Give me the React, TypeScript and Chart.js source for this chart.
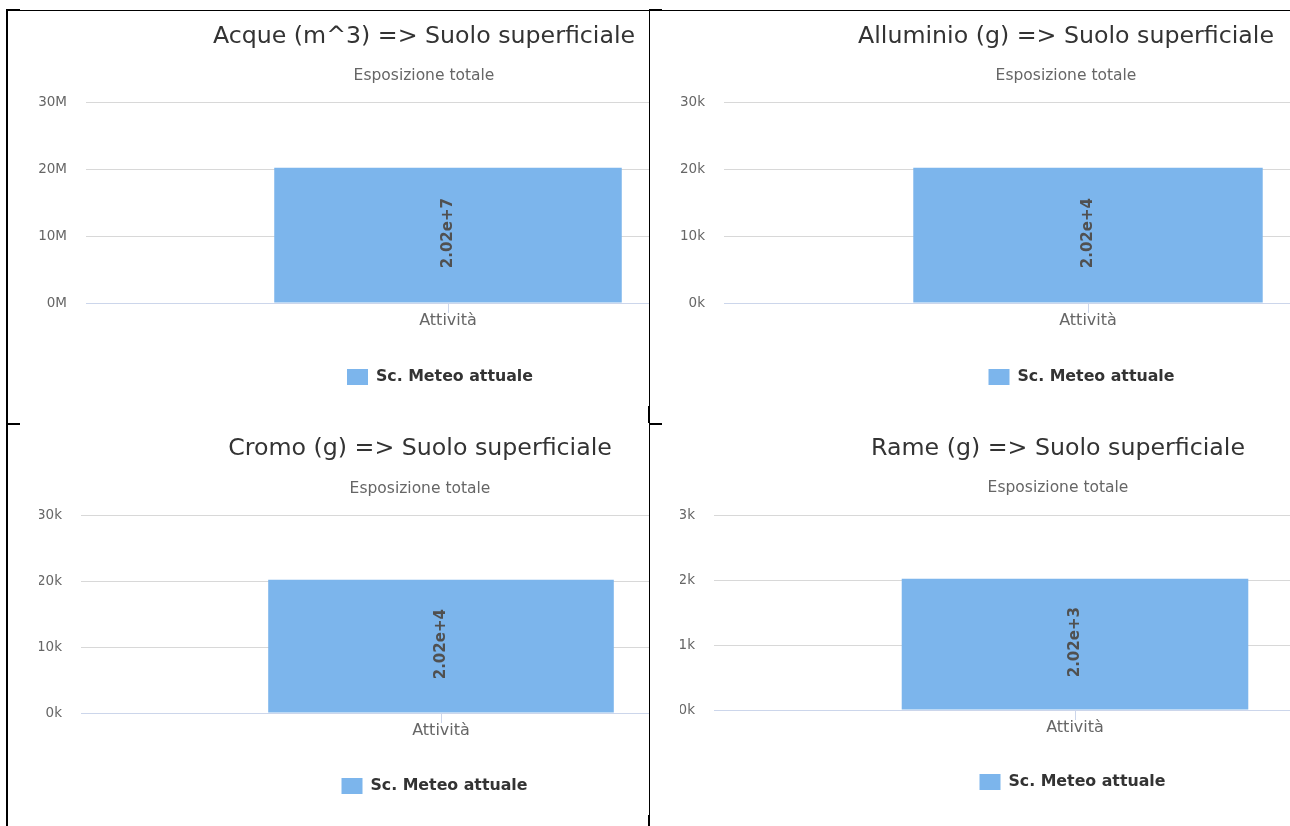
import { useEffect, useRef } from 'react';
import { Chart, registerables } from 'chart.js';

Chart.register(...registerables);

// ---------- data ----------
const categories = ['Attività'];
const seriesName = 'Sc. Meteo attuale';
const subtitleText = 'Esposizione totale';

const acqueTitle = 'Acque (m^3) => Suolo superficiale';
const alluminioTitle = 'Alluminio (g) => Suolo superficiale';
const cromoTitle = 'Cromo (g) => Suolo superficiale';
const rameTitle = 'Rame (g) => Suolo superficiale';

const acqueValues = [2.02e7];
const alluminioValues = [2.02e4];
const cromoValues = [2.02e4];
const rameValues = [2.02e3];

const acqueTickValues = [0, 1e7, 2e7, 3e7];
const acqueTickLabels = ['0M', '10M', '20M', '30M'];
const alluminioTickValues = [0, 1e4, 2e4, 3e4];
const alluminioTickLabels = ['0k', '10k', '20k', '30k'];
const cromoTickValues = [0, 1e4, 2e4, 3e4];
const cromoTickLabels = ['0k', '10k', '20k', '30k'];
const rameTickValues = [0, 1e3, 2e3, 3e3];
const rameTickLabels = ['0k', '1k', '2k', '3k'];

// ---------- layout (positions/sizes only) ----------
const FONT = '"DejaVu Sans", sans-serif';

const panelLayouts = [
  { cell: { x: 8, y: 11, w: 641, h: 412 }, canvas: { x: 38, y: 11, w: 772, h: 412 }, yWidth: 48, titlePadTop: 11.9, subPadTop: 15.6, subPadBottom: 16.7, legendPad: 40.8, padBottom: 28, legendShift: 16 },
  { cell: { x: 650, y: 11, w: 640, h: 412 }, canvas: { x: 680, y: 11, w: 772, h: 412 }, yWidth: 44, titlePadTop: 11.9, subPadTop: 15.6, subPadBottom: 16.7, legendPad: 40.8, padBottom: 28, legendShift: 15.5 },
  { cell: { x: 8, y: 425, w: 641, h: 401 }, canvas: { x: 39, y: 425, w: 762, h: 406 }, yWidth: 42, titlePadTop: 9.9, subPadTop: 16.6, subPadBottom: 16.7, legendPad: 39.8, padBottom: 27, legendShift: 14.5 },
  { cell: { x: 650, y: 425, w: 640, h: 401 }, canvas: { x: 680, y: 425, w: 756, h: 401 }, yWidth: 34, titlePadTop: 9.9, subPadTop: 15.6, subPadBottom: 17.7, legendPad: 38.8, padBottom: 26, legendShift: 14.5 },
];

const panels = [
  { title: acqueTitle, values: acqueValues, tickValues: acqueTickValues, tickLabels: acqueTickLabels },
  { title: alluminioTitle, values: alluminioValues, tickValues: alluminioTickValues, tickLabels: alluminioTickLabels },
  { title: cromoTitle, values: cromoValues, tickValues: cromoTickValues, tickLabels: cromoTickLabels },
  { title: rameTitle, values: rameValues, tickValues: rameTickValues, tickLabels: rameTickLabels },
];

const barLabelPlugin = {
  id: 'barLabel',
  afterDatasetsDraw(chart: any) {
    const ctx = chart.ctx;
    chart.data.datasets.forEach((ds: any, di: number) => {
      const meta = chart.getDatasetMeta(di);
      meta.data.forEach((bar: any, i: number) => {
        const v = ds.data[i] as number;
        const text = v.toExponential(2);
        ctx.save();
        ctx.translate(bar.x, (bar.y + bar.base) / 2 - 2);
        ctx.rotate(-Math.PI / 2);
        ctx.font = `bold 15px ${FONT}`;
        ctx.fillStyle = '#505050';
        ctx.textAlign = 'center';
        ctx.textBaseline = 'middle';
        ctx.fillText(text, 0, 0);
        ctx.restore();
      });
    });
  },
};

function makeLegendShift(dx: number) {
  return {
    id: 'legendShift',
    afterLayout(chart: any) {
      if (chart.legend) {
        chart.legend.left += dx;
        chart.legend.right += dx;
      }
    },
  };
}

function BarPanel({ index }: { index: number }) {
  const ref = useRef<HTMLCanvasElement>(null);
  const L = panelLayouts[index];
  const P = panels[index];

  useEffect(() => {
    const chart = new Chart(ref.current as HTMLCanvasElement, {
      type: 'bar',
      data: {
        labels: categories,
        datasets: [
          {
            label: seriesName,
            data: P.values,
            backgroundColor: '#7cb5ec',
            borderWidth: 0,
            barPercentage: 0.48,
            categoryPercentage: 1,
          },
        ],
      },
      options: {
        animation: false,
        responsive: false,
        devicePixelRatio: 1,
        layout: { padding: { left: 0, right: 0, top: 0, bottom: L.padBottom } },
        plugins: {
          title: {
            display: true,
            text: P.title,
            color: '#333333',
            font: { family: FONT, size: 23.7, weight: 'normal' },
            padding: { top: L.titlePadTop, bottom: 0 },
          },
          subtitle: {
            display: true,
            text: subtitleText,
            color: '#666666',
            font: { family: FONT, size: 15.5, weight: 'normal' },
            padding: { top: L.subPadTop, bottom: L.subPadBottom },
          },
          legend: {
            position: 'bottom',
            labels: {
              boxWidth: 21,
              boxHeight: 16,
              color: '#333333',
              font: { family: FONT, size: 15.8, weight: 'bold' },
              padding: L.legendPad,
            },
          },
          tooltip: { enabled: false },
        },
        scales: {
          x: {
            grid: { offset: false, drawOnChartArea: false, drawTicks: true, tickLength: 10, color: '#ccd6eb' },
            border: { display: true, color: '#ccd6eb' },
            ticks: { color: '#666666', font: { family: FONT, size: 16 }, padding: -2 },
          },
          y: {
            min: 0,
            max: P.tickValues[P.tickValues.length - 1],
            afterBuildTicks: (s: any) => {
              s.ticks = P.tickValues.map((v) => ({ value: v }));
            },
            afterFit: (s: any) => {
              s.width = L.yWidth;
            },
            grid: {
              drawTicks: false,
              color: (c: any) => (c.tick && c.tick.value === 0 ? '#ccd6eb' : '#d8d8d8'),
            },
            border: { display: false },
            ticks: {
              color: '#666666',
              font: { family: FONT, size: 13.5 },
              padding: 19,
              callback: (_v: any, i: number) => P.tickLabels[i],
            },
          },
        },
      } as any,
      plugins: [barLabelPlugin, makeLegendShift(L.legendShift)],
    });
    return () => chart.destroy();
  }, []);

  return (
    <div style={{ position: 'absolute', left: L.cell.x, top: L.cell.y, width: L.cell.w, height: L.cell.h, overflow: 'hidden' }}>
      <canvas
        ref={ref}
        width={L.canvas.w}
        height={L.canvas.h}
        style={{ position: 'absolute', left: L.canvas.x - L.cell.x, top: L.canvas.y - L.cell.y, width: L.canvas.w, height: L.canvas.h }}
      />
    </div>
  );
}

function Line({ x, y, w, h }: { x: number; y: number; w: number; h: number }) {
  return <div style={{ position: 'absolute', left: x, top: y, width: w, height: h, background: '#000' }} />;
}

export default function App() {
  return (
    <div style={{ position: 'absolute', left: 0, top: 0, width: 1290, height: 826, overflow: 'hidden', background: '#fff' }}>
      {panels.map((_, i) => (
        <BarPanel key={i} index={i} />
      ))}
      {/* table borders */}
      <Line x={7} y={10} w={1283} h={1} />
      <Line x={6} y={9} w={14} h={2} />
      <Line x={6} y={9} w={2} h={817} />
      <Line x={6} y={423} w={14} h={2} />
      <Line x={649} y={10} w={1} h={816} />
      <Line x={649} y={9} w={13} h={2} />
      <Line x={648} y={406} w={2} h={17} />
      <Line x={649} y={423} w={13} h={2} />
      <Line x={648} y={815} w={2} h={11} />
    </div>
  );
}
